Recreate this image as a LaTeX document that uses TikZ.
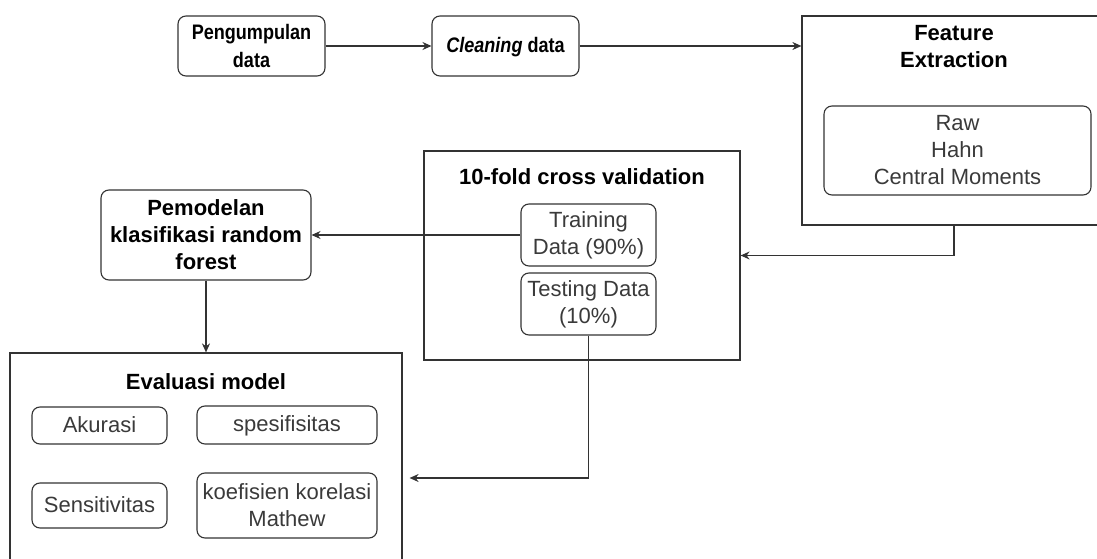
\documentclass[tikz,border=0pt]{standalone}
\usepackage{fontspec}
\setmainfont{Liberation Sans}
\usepackage{xcolor}
\usepackage{graphicx}
\usepackage{tikz}
\usetikzlibrary{positioning}
\usetikzlibrary{arrows.meta}
\definecolor{linegray}{HTML}{333333}
\definecolor{textgray}{HTML}{3a3a3a}
% narrower lettering for the first row
\newcommand{\narrowtxt}[1]{\scalebox{0.86}[1]{#1}}
\tikzset {
  % rounded step boxes
  proc/.style = {draw=linegray, line width=1.1pt, rounded corners=8pt, align=center, inner sep=0pt},
  topproc/.style = {proc, font=\fontsize{21}{28}\selectfont\bfseries},
  % large container boxes
  panel/.style = {draw=linegray, line width=1.2pt, inner sep=0pt},
  title/.style = {font=\fontsize{22}{27}\selectfont\bfseries, align=center, inner sep=0pt},
  % small boxes inside containers
  item/.style = {proc, text=textgray, font=\fontsize{22}{27}\selectfont},
  single/.style = {text height=17pt, text depth=4pt},
  % connectors
  flow/.style = {-{Stealth[length=9pt,width=8pt]}, draw=linegray, line width=1.2pt},
}

\begin{document}
\begin{tikzpicture}[x=1pt, y=-1pt]

        \useasboundingbox (0,0) rectangle (1097,559);

        % first row
        \node[topproc, minimum width=147pt, minimum height=60pt] (peng) at (251.5, 46) {\narrowtxt{Pengumpulan}\\\narrowtxt{data}};
        \node[topproc, single, minimum width=147pt, minimum height=60pt] (clean) at (505.5, 46) {\narrowtxt{\textit{Cleaning} data}};

        % feature extraction
        \node[panel, minimum width=304pt, minimum height=209pt] (feat) at (954, 120.5) {};
        \node[title] (feattitle) at (954, 47) {Feature\\Extraction};
        \node[item, minimum width=267pt, minimum height=89pt] (raw) at (957.5, 150.5) {Raw\\Hahn\\Central Moments};

        % cross validation
        \node[panel, minimum width=316pt, minimum height=209pt] (cv) at (582, 255.5) {};
        \node[title] (cvtitle) at (582, 177) {10-fold cross validation};
        \node[item, minimum width=135pt, minimum height=62pt] (train) at (588.5, 235) {Training\\Data (90\%)};
        \node[item, minimum width=135pt, minimum height=62pt] (test) at (588.5, 304) {Testing Data\\(10\%)};

        % model
        \node[proc, font=\fontsize{22}{27}\selectfont\bfseries, minimum width=210pt, minimum height=90pt] (model) at (206, 235) {Pemodelan\\klasifikasi random\\forest};

        % evaluation
        \node[panel, minimum width=392pt, minimum height=250pt] (eval) at (206, 478) {};
        \node[title] (evaltitle) at (206, 382) {Evaluasi model};
        \node[item, single, minimum width=135pt, minimum height=37pt] (akurasi) at (99.5, 425.5) {Akurasi};
        \node[item, single, minimum width=180pt, minimum height=38pt] (spesif) at (287, 425) {spesifisitas};
        \node[item, single, minimum width=135pt, minimum height=45pt] (sensit) at (99.5, 505.5) {Sensitivitas};
        \node[item, minimum width=180pt, minimum height=65pt] (koef) at (287, 505.5) {koefisien korelasi\\Mathew};

        \draw [flow] (peng) -- (clean);
        \draw [flow] (clean.east) -- (clean.east -| feat.west);
        \draw [flow] (feat.south) |- (cv.east);
        \draw [flow] (train.west) -- (train.west -| model.east);
        \draw [flow] (model.south) -- (model.south |- eval.north);
        \draw [flow, shorten >=7pt] (test.south) |- (eval.east);

      \end{tikzpicture}
\end{document}
